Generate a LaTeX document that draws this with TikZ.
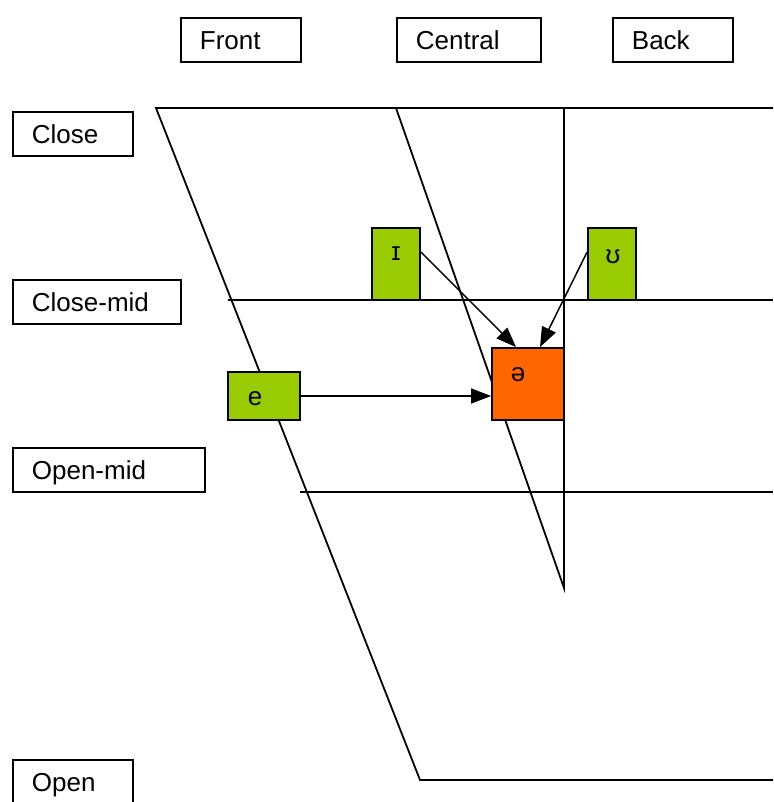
\documentclass[tikz,border=0pt]{standalone}
\usepackage{fontspec}
\setmainfont{Liberation Sans}
\usetikzlibrary{arrows.meta}
\definecolor{vgreen}{HTML}{99CC00}
\definecolor{vorange}{HTML}{FF6600}
\begin{document}
\begin{tikzpicture}[x=1pt,y=-1pt,
  lab/.style={draw, line width=1.8pt, anchor=north west, align=left,
    inner xsep=19pt, inner ysep=0pt, minimum height=44pt,
    text height=19pt, text depth=0pt, font=\fontsize{26}{30}\selectfont},
  vbox/.style={draw, line width=1.8pt, fill=vgreen, inner sep=0pt},
  vtxt/.style={inner sep=0pt, font=\fontsize{26}{30}\selectfont},
  chart/.style={line width=1.8pt},
  arr/.style={line width=1.5pt, -{Triangle[length=20pt,width=15pt]}}]
\useasboundingbox (0,0) rectangle (773,802);
% header labels
\node[lab, text width=82pt] (front) at (180,17) {Front};
\node[lab, text width=106pt] (central) at (396,17) {Central};
\node[lab, text width=82pt] (back) at (612,17) {Back};
% row labels
\node[lab, text width=82pt] (close) at (12,111) {Close};
\node[lab, text width=130pt] (closemid) at (12,279) {Close-mid};
\node[lab, text width=154pt] (openmid) at (12,447) {Open-mid};
\begin{scope}
\clip (0,0) rectangle (773,801.5);
\node[lab, text width=82pt] (open) at (12,759) {Open};
\end{scope}
% chart coordinates
\coordinate (tl) at (156,108);
\coordinate (tr) at (773,108);
\coordinate (bl) at (420,780);
\coordinate (br) at (773,780);
\coordinate (cml) at (228,300);
\coordinate (cmr) at (773,300);
\coordinate (oml) at (300,492);
\coordinate (omr) at (773,492);
\coordinate (ct) at (396,108);
\coordinate (cb) at (564,588);
\coordinate (vt) at (564,108);
\draw[chart] (tr) -- (tl) -- (bl) -- (br);
\draw[chart] (cml) -- (cmr);
\draw[chart] (oml) -- (omr);
\draw[chart] (ct) -- (cb) -- (vt);
% vowel boxes
\node[vbox, minimum width=48pt, minimum height=72pt] (iv) at (396,264) {};
\node[vtxt] at (396,254) {ɪ};
\node[vbox, minimum width=48pt, minimum height=72pt] (uv) at (612,264) {};
\node[vtxt] at (613,257) {ʊ};
\node[vbox, minimum width=72pt, minimum height=48pt] (ev) at (264,396) {};
\node[vtxt] at (255,399) {e};
\node[vbox, fill=vorange, minimum width=72pt, minimum height=72pt] (schwa) at (528,384) {};
\node[vtxt] at (518,375) {ə};
% arrows
\draw[arr] ([yshift=12pt]iv.east) -- ([xshift=-12pt]schwa.north);
\draw[arr] ([yshift=12pt]uv.west) -- ([xshift=12pt]schwa.north);
\draw[arr] (ev.east) -- (ev.east -| schwa.west);
\end{tikzpicture}
\end{document}
